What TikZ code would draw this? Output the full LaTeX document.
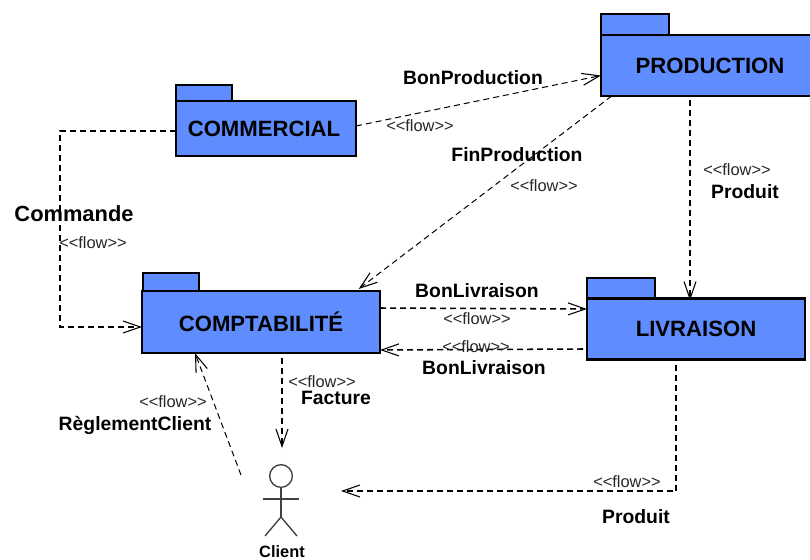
\documentclass[tikz,border=0pt]{standalone}
\usepackage{fontspec}
\usetikzlibrary{arrows.meta,calc}
\newfontfamily\lib{Liberation Sans}
\definecolor{pkgblue}{HTML}{5F8CFF}
\tikzset{
  x=0.75pt,y=-0.75pt,
  pkg/.style={draw=black,fill=pkgblue,line width=1.9pt,inner sep=0pt,outer sep=0pt,font=\lib\bfseries\fontsize{16.6}{20}\selectfont,text=black},
  pkgtab/.style={draw=black,fill=pkgblue,line width=1.9pt,inner sep=0pt,outer sep=0pt},
  lab/.style={inner sep=0pt,font=\lib\bfseries\fontsize{14.5}{17}\selectfont},
  flowlab/.style={inner sep=0pt,font=\lib\fontsize{12.3}{14}\selectfont,text=black!85},
  flowthick/.style={line width=1.15pt,dash pattern=on 4.5pt off 3pt,-{Straight Barb[length=13pt,width=9pt,line width=.8pt]}},
  flowthin/.style={line width=.75pt,dash pattern=on 4.5pt off 3pt,-{Straight Barb[length=13pt,width=9pt,line width=.8pt]}},
  stick/.style={draw=black!75,line width=1pt}
}
\begin{document}
\begin{tikzpicture}
\useasboundingbox (0,0) rectangle (810,560);
% tabs
\node[pkgtab,minimum width=42pt,minimum height=12pt] (commtab) at (204,93) {};
\node[pkgtab,minimum width=42pt,minimum height=13.5pt] (comptatab) at (171,282) {};
\node[pkgtab,minimum width=51pt,minimum height=15.75pt] (prodtab) at (635,24.5) {};
\node[pkgtab,minimum width=51pt,minimum height=15pt] (livtab) at (621,288) {};
% bodies
\node[pkg,minimum width=135pt,minimum height=41.25pt] (comm) at (266,128.5) {COMMERCIAL\hspace*{3pt}};
\node[pkg,minimum width=178.5pt,minimum height=46.5pt] (compta) at (261,322) {COMPTABILITÉ};
\node[pkg,minimum width=163.5pt,minimum height=45.75pt] (liv) at (696,329) {LIVRAISON};
\node[pkg,minimum width=163.5pt,minimum height=45.75pt] (prod) at (710,65.5) {PRODUCTION};
% actor
\node[circle,draw=black!75,line width=1pt,inner sep=0pt,outer sep=0pt,minimum size=17pt,fill=white] (head) at (281,476) {};
\coordinate (hip) at (281,517);
\coordinate (larm) at (263,499);
\coordinate (rarm) at (299,499);
\coordinate (lfoot) at (265,536);
\coordinate (rfoot) at (297,536);
\draw[stick] (head.south) -- (hip);
\draw[stick] (larm) -- (rarm);
\draw[stick] (lfoot) -- (hip) -- (rfoot);
\node[inner sep=0pt,font=\lib\bfseries\fontsize{12.3}{14}\selectfont] (client) at (282,551.5) {Client};
% connector ends near the actor
\coordinate (actortop) at (282,448);
\coordinate (actorright) at (341,491);
\coordinate (actorleft) at (241,475);
% connectors
\draw[flowthick] ([yshift=-1.9pt]comm.west) -- ++(-87pt,0) |- ([yshift=-3.75pt]compta.west);
\draw[flowthin] ([yshift=1.9pt]comm.east) -- ([yshift=-7.5pt]prod.west);
\draw[flowthin] ([xshift=8pt]prod.south west) -- ([xshift=-16pt,yshift=1.5pt]compta.north east);
\draw[flowthick] ([xshift=-15pt,yshift=-3pt]prod.south) -- ([xshift=-4.5pt,yshift=-1.5pt]liv.north);
\draw[flowthick] ([yshift=10.5pt]compta.east) -- ([yshift=15pt]liv.west);
\draw[flowthick] ([xshift=-3pt,yshift=-15pt]liv.west) -- ([yshift=-21pt]compta.east) ;
\draw[flowthick] ([xshift=-15pt,yshift=-3.75pt]liv.south) |- (actorright);
\draw[flowthick] ([xshift=15.75pt,yshift=-3.75pt]compta.south) -- (actortop);
\draw[flowthin] (actorleft) -- ([xshift=-49.5pt]compta.south);
% labels
\node[lab] (l1) at (473,78) {BonProduction};
\node[flowlab] (f1) at (420,126) {<<flow>>};
\node[lab] (l2) at (517,155) {FinProduction};
\node[flowlab] (f2) at (544,186) {<<flow>>};
\node[flowlab] (f3) at (737,170) {<<flow>>};
\node[lab] (l3) at (745,192) {Produit};
\node[lab,font=\lib\bfseries\fontsize{16.4}{20}\selectfont] (l4) at (74,214) {Commande};
\node[flowlab] (f4) at (93,243) {<<flow>>};
\node[lab] (l5) at (477,291) {BonLivraison};
\node[flowlab] (f5) at (477,319) {<<flow>>};
\node[flowlab] (f6) at (476,347) {<<flow>>};
\node[lab] (l6) at (484,368) {BonLivraison};
\node[flowlab] (f7) at (322,382) {<<flow>>};
\node[lab] (l7) at (336,398) {Facture};
\node[flowlab] (f8) at (173,402) {<<flow>>};
\node[lab] (l8) at (135,425) {RèglementClient};
\node[flowlab] (f9) at (627,482) {<<flow>>};
\node[lab] (l9) at (636,517) {Produit};
\end{tikzpicture}
\end{document}
